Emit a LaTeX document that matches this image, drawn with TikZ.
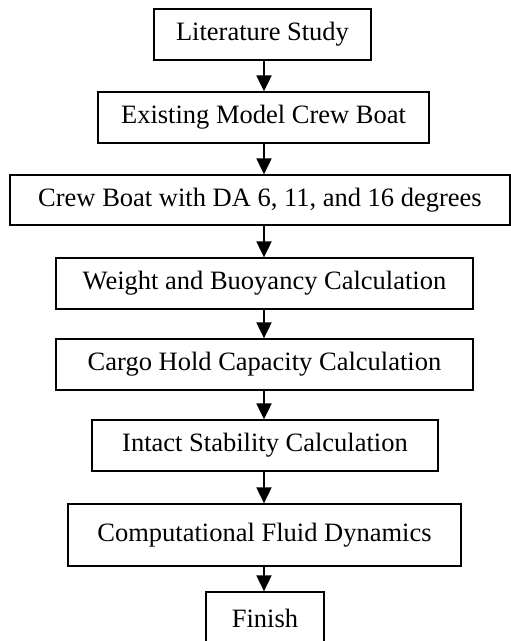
\documentclass[tikz,border=0pt]{standalone}
\usepackage{fontspec}
\setmainfont{Liberation Serif}
\usetikzlibrary{arrows.meta}
\begin{document}
\begin{tikzpicture}[x=1pt,y=-1pt,
  stepbox/.style={draw,line width=1.3pt,inner sep=0pt,font=\fontsize{26.5}{30}\selectfont},
  arr/.style={line width=2pt,-{Triangle[length=16pt,width=15pt]}}]
\useasboundingbox (0,0) rectangle (511,641);
\clip (0,0) rectangle (511,641);
\coordinate (ax) at (264,0);
\node[stepbox,minimum width=217pt,minimum height=51pt] (b1) at (262.5,34.5) {Literature Study};
\node[stepbox,minimum width=331pt,minimum height=51pt] (b2) at (263.5,117.5) {Existing Model Crew Boat};
\node[stepbox,minimum width=500pt,minimum height=50pt] (b3) at (260,200) {Crew Boat with DA 6, 11, and 16 degrees};
\node[stepbox,minimum width=417pt,minimum height=51pt] (b4) at (264.5,283.5) {Weight and Buoyancy Calculation};
\node[stepbox,minimum width=417pt,minimum height=51pt] (b5) at (264.5,364.5) {Cargo Hold Capacity Calculation};
\node[stepbox,minimum width=346pt,minimum height=51pt] (b6) at (265,445.5) {Intact Stability Calculation};
\node[stepbox,minimum width=393pt,minimum height=62pt] (b7) at (264.5,535) {Computational Fluid Dynamics};
\node[stepbox,minimum width=118pt,minimum height=52pt] (b8) at (265,618) {Finish};
\foreach \a/\b in {b1/b2,b2/b3,b3/b4,b4/b5,b5/b6,b6/b7,b7/b8}
  \draw[arr] (\a.south -| ax) -- (\b.north -| ax);
\end{tikzpicture}
\end{document}
